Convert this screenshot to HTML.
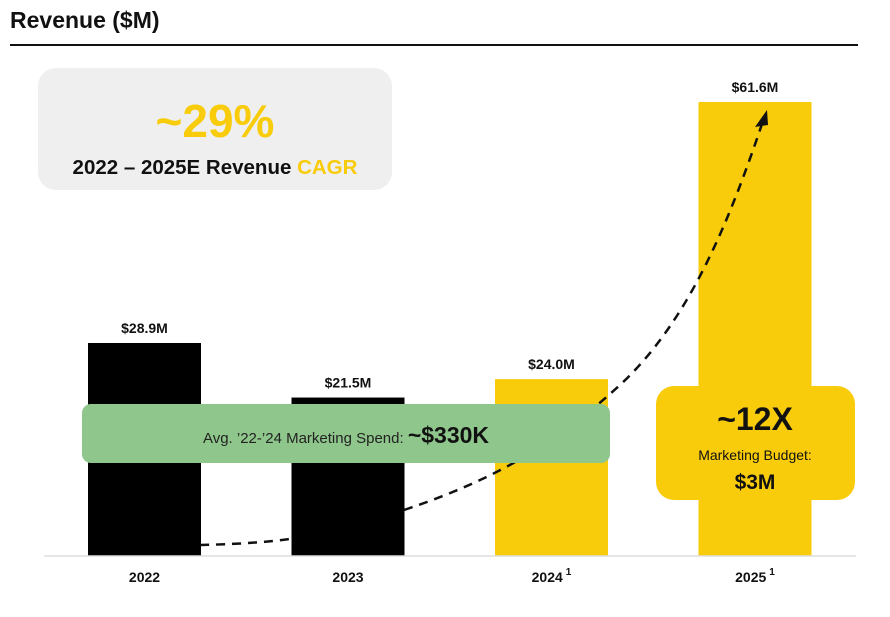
<!DOCTYPE html>
<html><head><meta charset="utf-8"><style>
body{margin:0;background:#fff;width:890px;height:612px;overflow:hidden;font-family:"Liberation Sans",sans-serif}
</style></head><body>
<svg width="890" height="612" font-family="Liberation Sans, sans-serif">
<text x="10" y="28" font-size="23" font-weight="bold" fill="#111">Revenue ($M)</text>
<line x1="10" y1="45" x2="858" y2="45" stroke="#111" stroke-width="2"/>
<g>
<rect x="38" y="68" width="354" height="122" rx="18" fill="#efefef"/>
<text x="215" y="137" text-anchor="middle" font-size="46" font-weight="bold" fill="#f8cc0a">~29%</text>
<text x="215" y="174" text-anchor="middle" font-size="20.5" font-weight="bold" fill="#111">2022 – 2025E Revenue <tspan fill="#f8cc0a">CAGR</tspan></text>
</g>
<g id="barsBack"></g>
<path d="M200,545 C290,543 330,535 404,510 C500,478 560,440 620,385 C690,320 730,220 765,115" fill="none" stroke="#111" stroke-width="2.5" stroke-dasharray="9,7"/>
<polygon points="767,110 755,127 768,125" fill="#111"/>
<g id="barsFront"></g>
<line x1="44" y1="556" x2="856" y2="556" stroke="#ddd" stroke-width="1.5"/>
<g>
<rect x="82" y="404" width="528" height="59" rx="9" fill="#8fc68b"/>
<text x="346" y="443" text-anchor="middle" font-size="15" fill="#222">Avg. ’22-’24 Marketing Spend: <tspan font-size="23" font-weight="bold" fill="#111">~$330K</tspan></text>
</g>
<g>
<rect x="656" y="386" width="199" height="114" rx="18" fill="#f8cc0a"/>
<text x="755" y="430" text-anchor="middle" font-size="32" font-weight="bold" fill="#111">~12X</text>
<text x="755" y="460" text-anchor="middle" font-size="14" fill="#111">Marketing Budget:</text>
<text x="755" y="489" text-anchor="middle" font-size="21" font-weight="bold" fill="#111">$3M</text>
</g>
</svg>
<script>
const categories=["2022","2023","2024","2025"];
const values=[28.9,21.5,24.0,61.6];
const valueLabels=["$28.9M","$21.5M","$24.0M","$61.6M"];
const superscripts=["","","1","1"];
const colors=["#000","#000","#f8cc0a","#f8cc0a"];
const ns="http://www.w3.org/2000/svg";
const back=document.getElementById('barsBack');
const front=document.getElementById('barsFront');
const x0=88,step=203.5,bw=113,base=556,scale=213/28.9;
const y=v=>base-v*scale;
categories.forEach((c,i)=>{
  const x=x0+i*step;
  const r=document.createElementNS(ns,'rect');
  r.setAttribute('x',x);r.setAttribute('y',y(values[i]));r.setAttribute('width',bw);r.setAttribute('height',base-y(values[i]));r.setAttribute('fill',colors[i]);
  
  
  (colors[i]==="#000"?front:back).appendChild(r);
  const t=document.createElementNS(ns,'text');
  t.setAttribute('x',x+bw/2);t.setAttribute('y',y(values[i])-10);t.setAttribute('text-anchor','middle');t.setAttribute('font-size','14');t.setAttribute('font-weight','bold');t.setAttribute('fill','#111');
  t.textContent=valueLabels[i];
  
  
  front.appendChild(t);
  const l=document.createElementNS(ns,'text');
  l.setAttribute('x',x+bw/2);l.setAttribute('y',582);l.setAttribute('text-anchor','middle');l.setAttribute('font-size','14');l.setAttribute('font-weight','bold');l.setAttribute('fill','#111');
  l.textContent=c;
  if(superscripts[i]){const s=document.createElementNS(ns,'tspan');s.setAttribute('font-size','10');s.setAttribute('dx','3');s.setAttribute('dy','-7');s.textContent=superscripts[i];l.appendChild(s);}
  
  
  front.appendChild(l);
});
</script>
</body></html>
